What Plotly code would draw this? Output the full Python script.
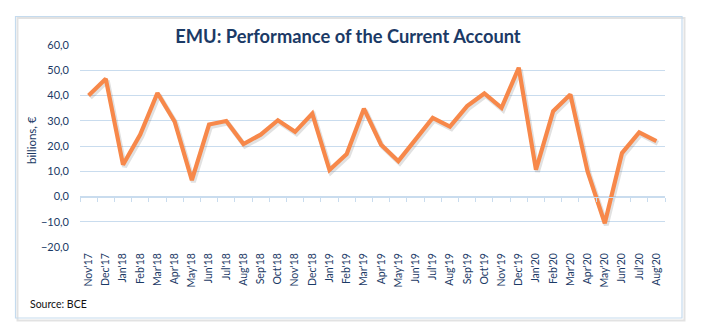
import plotly.graph_objects as go

months = ["Nov'17", "Dec'17", "Jan'18", "Feb'18", "Mar'18", "Apr'18", "May'18", "Jun'18",
          "Jul'18", "Aug'18", "Sep'18", "Oct'18", "Nov'18", "Dec'18", "Jan'19", "Feb'19",
          "Mar'19", "Apr'19", "May'19", "Jun'19", "Jul'19", "Aug'19", "Sep'19", "Oct'19",
          "Nov'19", "Dec'19", "Jan'20", "Feb'20", "Mar'20", "Apr'20", "May'20", "Jun'20",
          "Jul'20", "Aug'20"]
current_account = [40.0, 46.6, 12.6, 24.5, 41.0, 29.7, 6.5, 28.5,
                   29.9, 20.8, 24.5, 30.2, 25.6, 32.8, 10.5, 16.8,
                   34.8, 20.5, 14.0, 22.6, 31.1, 27.7, 35.8, 40.8,
                   35.1, 51.0, 10.6, 33.8, 40.4, 9.9, -10.6, 17.2,
                   25.4, 21.9]
y_ticks = [-20, -10, 0, 10, 20, 30, 40, 50, 60]

W, H = 703, 336
L, R, T, B = 80, 665, 45, 247  # plot area in pixels
FONT = "Lato"
NAVY = "#1b3a66"
GRID = "#c9dcee"
ORANGE = "#f7884a"
Y0, Y1 = -20, 60

def px(x):
    return (x - L) / (R - L)

def py(y):
    return (B - y) / (B - T)

n = len(months)
cat_px = (R - L) / n
sx = 1.5 / cat_px                     # shadow shift, in category units
sy = 2.0 * (Y1 - Y0) / (B - T)        # shadow shift, in value units

invisible = dict(color="rgba(0,0,0,0)", width=0)

fig = go.Figure()

# invisible traces to carry the main axes and the tick axis at zero
fig.add_trace(go.Scatter(x=months, y=current_account, mode="lines", line=invisible,
                         hoverinfo="skip", showlegend=False))
fig.add_trace(go.Scatter(x=months, y=current_account, mode="lines", line=invisible,
                         xaxis="x2", yaxis="y", hoverinfo="skip", showlegend=False))
# soft shadow of the line (same data, axes shifted by a couple of pixels)
fig.add_trace(go.Scatter(x=months, y=current_account, mode="lines",
                         line=dict(color="rgba(120,120,120,0.22)", width=5),
                         xaxis="x3", yaxis="y3", hoverinfo="skip", showlegend=False))
# the series itself, on an overlay drawn above the shadow
fig.add_trace(go.Scatter(x=months, y=current_account, mode="lines",
                         line=dict(color=ORANGE, width=4.2),
                         xaxis="x4", yaxis="y4", showlegend=False))

fig.update_layout(
    width=W, height=H,
    margin=dict(l=L, r=W - R, t=T, b=H - B),
    paper_bgcolor="white", plot_bgcolor="white",
    separators=",.",
    showlegend=False,
    title=dict(text="<b>EMU: Performance of the Current Account</b>",
               x=348 / W, xanchor="center", y=1 - 37 / H, yanchor="middle",
               font=dict(family=FONT, size=18.3, color=NAVY)),
    xaxis=dict(type="category", categoryorder="array", categoryarray=months,
               range=[-0.5, n - 0.5],
               tickangle=-90, ticks="", showline=False, showgrid=False,
               tickfont=dict(family=FONT, size=10.5, color=NAVY),
               ticklabelstandoff=3, zeroline=False),
    xaxis2=dict(type="category", categoryorder="array", categoryarray=months,
                overlaying="x", anchor="free", position=(0 - Y0) / (Y1 - Y0),
                range=[-0.5, n - 0.5],
                showticklabels=False, ticks="outside", ticklen=4, tickcolor=GRID,
                tickson="boundaries", showline=True, linecolor=GRID, linewidth=1,
                showgrid=False),
    xaxis3=dict(type="category", categoryorder="array", categoryarray=months,
                range=[-0.5 - sx, n - 0.5 - sx], overlaying="x",
                anchor="y3", visible=False),
    xaxis4=dict(type="category", categoryorder="array", categoryarray=months,
                range=[-0.5, n - 0.5], overlaying="x",
                anchor="y4", visible=False),
    yaxis=dict(range=[Y0, Y1], tickvals=y_ticks, tickformat=".1f",
               showgrid=True, gridcolor=GRID, gridwidth=1, zeroline=False,
               ticks="", showline=False, ticklabelstandoff=10,
               tickfont=dict(family=FONT, size=11, color=NAVY)),
    yaxis3=dict(range=[Y0 + sy, Y1 + sy], anchor="x3",
                overlaying="y", visible=False),
    yaxis4=dict(range=[Y0, Y1], anchor="x4",
                overlaying="y", visible=False),
    shapes=[
        dict(type="rect", xref="paper", yref="paper",
             x0=px(17.5), x1=px(684.5), y0=py(320.5), y1=py(18),
             line=dict(color="rgba(160,160,160,0.3)", width=2), layer="below"),
        dict(type="rect", xref="paper", yref="paper",
             x0=px(15.5), x1=px(682), y0=py(318), y1=py(16.5),
             line=dict(color="#c5dbee", width=1.2), fillcolor="rgba(0,0,0,0)", layer="below"),
    ],
    annotations=[
        dict(text="billions, €", xref="paper", yref="paper", x=px(31), y=py(140),
             textangle=-90, showarrow=False, xanchor="center", yanchor="middle",
             font=dict(family=FONT, size=11.5, color=NAVY)),
        dict(text="Source: BCE", xref="paper", yref="paper", x=px(28), y=py(304),
             showarrow=False, xanchor="left", yanchor="middle",
             font=dict(family=FONT, size=10.5, color="#111111")),
    ],
)

fig.write_html("out.html")
